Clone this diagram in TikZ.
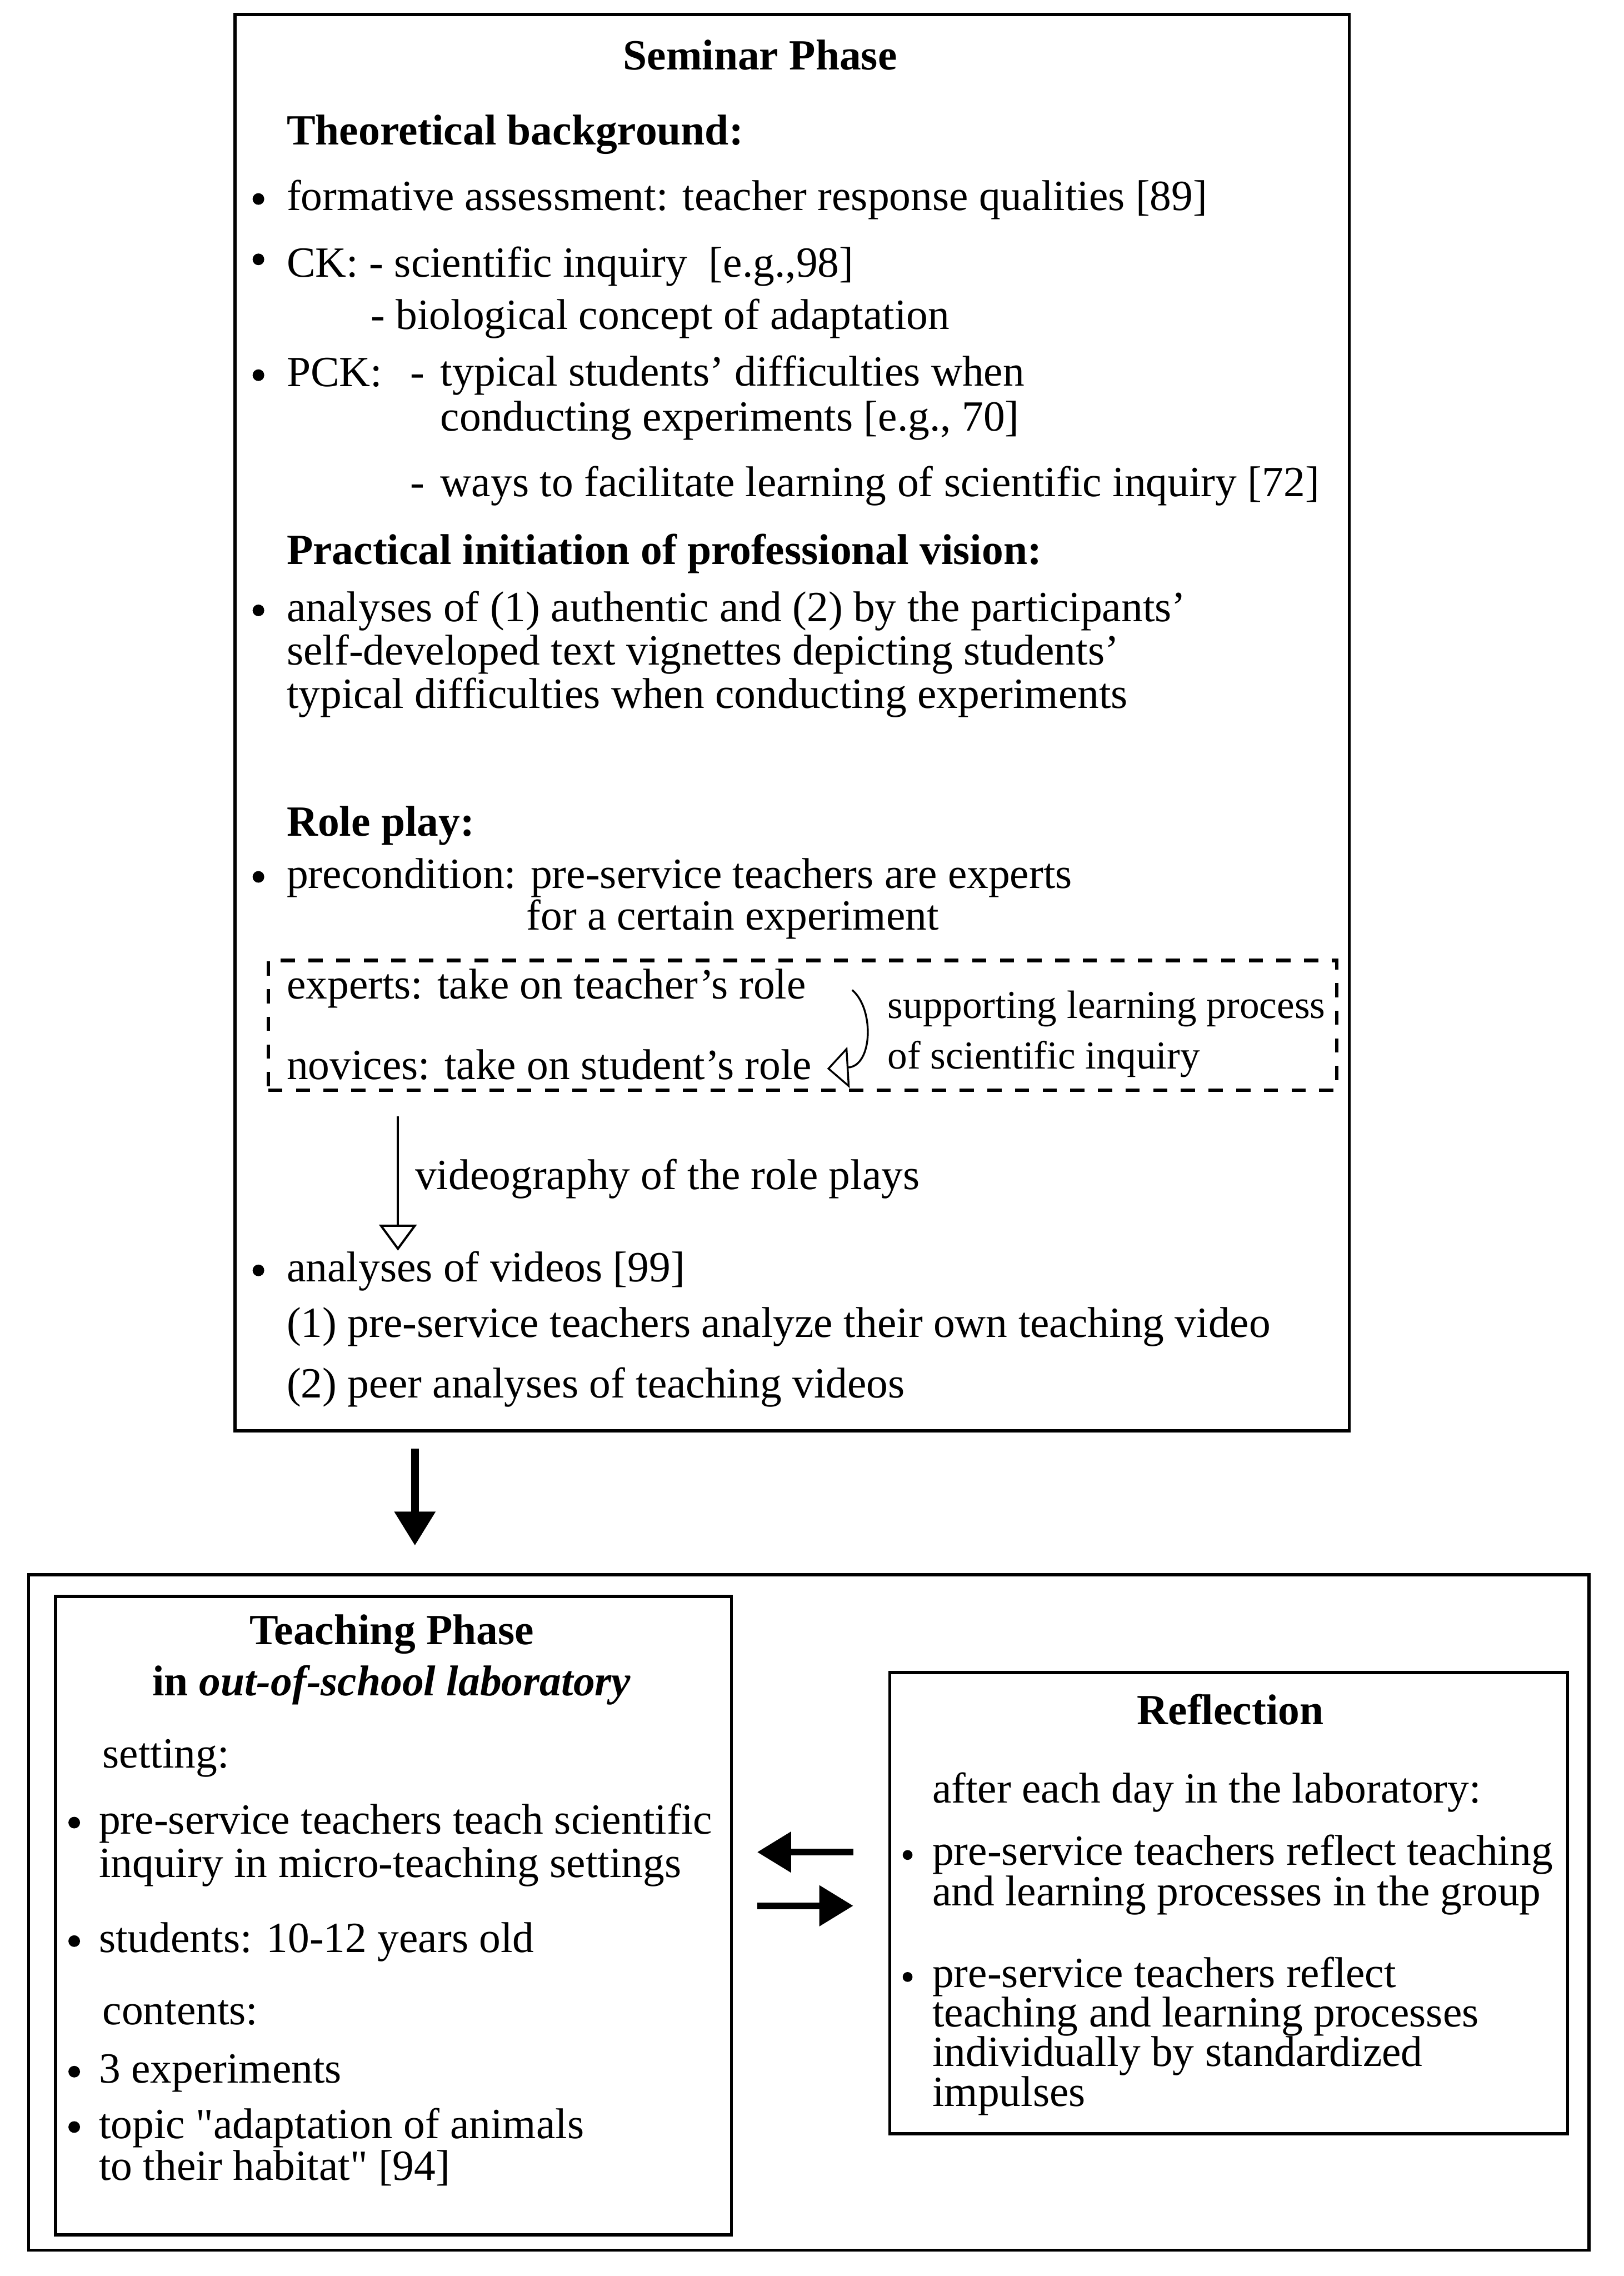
\documentclass[tikz,border=0pt]{standalone}
\usepackage{fontspec}
\setmainfont{Liberation Serif}
\usetikzlibrary{arrows.meta}

\begin{document}
\begin{tikzpicture}[
        box/.style={draw, line width=1pt, inner sep=0pt},
        dashbox/.style={draw, line width=1.1pt, dash pattern=on 4.5pt off 4.3pt, inner sep=0pt},
        txt/.style={anchor=base west, align=left, inner sep=0pt, font=\fontsize{13.7}{14}\selectfont},
        head/.style={txt, font=\fontsize{13.7}{14}\selectfont\bfseries},
        bul/.style={circle, fill, inner sep=0pt, minimum size=0.13cm},
        bigarrow/.style={-{Triangle[length=0.38cm, width=0.44cm]}, line width=2.4pt},
        openarrow/.style={-{Triangle[open, length=0.29cm, width=0.42cm]}, line width=0.7pt},
        looparrow/.style={-{Triangle[open, length=0.24cm, width=0.46cm]}, line width=0.6pt}
    ]
        \useasboundingbox (0,0) rectangle (18.16,-25.45);

        % seminar phase (multi-line nodes sit on their last line)
        \node[box, minimum width=12.46cm, minimum height=15.84cm] (seminar) at (8.86,-8.08) {};
        \node[head, anchor=base] (semtitle) at (8.50,-0.78) {Seminar Phase};
        \node[head] (theo) at (3.20,-1.62) {Theoretical background:};
        \node[txt] (fa) at (3.20,-2.35) {formative assessment: teacher response qualities [89]};
        \node[txt] (ck) at (3.20,-3.10) {CK: - scientific inquiry\ \ [e.g.,98]};
        \node[txt] (bio) at (4.14,-3.68) {- biological concept of adaptation};
        \node[txt] (pck) at (3.20,-4.32) {PCK:};
        \node[txt] (pcka) at (4.58,-4.32) {-};
        \node[txt, font=\fontsize{13.7}{14.3}\selectfont] (diff) at (4.92,-4.82) {typical students' difficulties when\\conducting experiments [e.g., 70]};
        \node[txt] (pckb) at (4.58,-5.55) {-};
        \node[txt] (ways) at (4.92,-5.55) {ways to facilitate learning of scientific inquiry [72]};
        \node[head] (prac) at (3.20,-6.31) {Practical initiation of professional vision:};
        \node[txt, font=\fontsize{13.7}{13.8}\selectfont] (vign) at (3.20,-7.92) {analyses of (1) authentic and (2) by the participants'\\self-developed text vignettes depicting students'\\typical difficulties when conducting experiments};
        \node[head] (role) at (3.20,-9.35) {Role play:};
        \node[txt] (prec) at (3.20,-9.93) {precondition: pre-service teachers are experts};
        \node[txt] (prec2) at (5.88,-10.40) {for a certain experiment};

        % role play box
        \node[dashbox, minimum width=11.95cm, minimum height=1.45cm] (roles) at (8.975,-11.465) {};
        \node[txt] (exp) at (3.20,-11.17) {experts: take on teacher's role};
        \node[txt] (nov) at (3.20,-12.07) {novices: take on student's role};
        \node[txt, font=\fontsize{12.6}{16.1}\selectfont] (supp) at (9.92,-11.95) {supporting learning process\\of scientific inquiry};
        \coordinate (loopa) at (9.53,-11.07);
        \coordinate (loopb) at (9.25,-11.95);
        \draw[looparrow] (loopa) .. controls (9.78,-11.28) and (9.76,-11.92) .. (loopb);

        % videos
        \node[txt] (vid) at (3.20,-14.33) {analyses of videos [99]};
        \node[txt] (own) at (3.20,-14.95) {(1) pre-service teachers analyze their own teaching video};
        \node[txt] (peer) at (3.20,-15.63) {(2) peer analyses of teaching videos};
        \coordinate (vidtop) at (4.45,-12.48);
        \draw[openarrow] (vidtop) -- (vidtop |- vid.north) node[midway, anchor=west, inner sep=0pt, xshift=0.18cm, yshift=0.05cm, font=\fontsize{13.7}{14}\selectfont] (vlabel) {videography of the role plays};

        \node[bul] (bfa) at ([xshift=-0.31cm, yshift=0.125cm]fa.base west) {};
        \node[bul] (bck) at ([xshift=-0.31cm, yshift=0.2cm]ck.base west) {};
        \node[bul] (bpck) at ([xshift=-0.31cm, yshift=0.125cm]pck.base west) {};
        \node[bul] (bvign) at ([xshift=-0.31cm, yshift=1.095cm]vign.base west) {};
        \node[bul] (bprec) at ([xshift=-0.31cm, yshift=0.125cm]prec.base west) {};
        \node[bul] (bvid) at ([xshift=-0.31cm, yshift=0.125cm]vid.base west) {};

        % teaching phase and reflection
        \node[box, minimum width=17.45cm, minimum height=7.55cm] (outer) at (9.045,-21.385) {};
        \draw[bigarrow, shorten <=0.18cm, shorten >=0.31cm] ([xshift=-4.22cm]seminar.south) -- ([xshift=-4.22cm]seminar.south |- outer.north);

        \node[box, minimum width=7.56cm, minimum height=7.14cm] (teach) at (4.40,-21.42) {};
        \node[head, anchor=base, align=center, font=\fontsize{13.7}{16.2}\selectfont\bfseries] (teachtitle) at (4.38,-18.96) {Teaching Phase\\in \textit{out-of-school laboratory}};
        \node[txt] (set) at (1.14,-19.77) {setting:};
        \node[txt, font=\fontsize{13.7}{13.8}\selectfont] (micro) at (1.10,-20.99) {pre-service teachers teach scientific\\inquiry in micro-teaching settings};
        \node[txt] (stud) at (1.10,-21.83) {students: 10-12 years old};
        \node[txt] (cont) at (1.14,-22.64) {contents:};
        \node[txt] (three) at (1.10,-23.29) {3 experiments};
        \node[txt, font=\fontsize{13.7}{13.4}\selectfont] (topic) at (1.10,-24.38) {topic \textquotedbl adaptation of animals\\to their habitat\textquotedbl\ [94]};

        \node[bul] (bmicro) at ([xshift=-0.27cm, yshift=0.61cm]micro.base west) {};
        \node[bul] (bstud) at ([xshift=-0.27cm, yshift=0.125cm]stud.base west) {};
        \node[bul] (bthree) at ([xshift=-0.27cm, yshift=0.125cm]three.base west) {};
        \node[bul] (btopic) at ([xshift=-0.27cm, yshift=0.596cm]topic.base west) {};

        \node[box, minimum width=7.58cm, minimum height=5.16cm] (refl) at (13.74,-21.28) {};
        \node[head, anchor=base] (refltitle) at (13.76,-19.28) {Reflection};
        \node[txt] (after) at (10.42,-20.16) {after each day in the laboratory:};
        \node[txt, font=\fontsize{13.7}{12.9}\selectfont] (group) at (10.42,-21.31) {pre-service teachers reflect teaching\\and learning processes in the group};
        \node[txt, font=\fontsize{13.7}{12.6}\selectfont] (indiv) at (10.42,-23.55) {pre-service teachers reflect\\teaching and learning processes\\individually by standardized\\impulses};

        \node[bul, minimum size=0.11cm] (bgroup) at ([xshift=-0.27cm, yshift=0.568cm]group.base west) {};
        \node[bul, minimum size=0.11cm] (bindiv) at ([xshift=-0.27cm, yshift=1.444cm]indiv.base west) {};

        \draw[bigarrow, line width=2.2pt, shorten <=0.39cm, shorten >=0.27cm] (refl.west |- 0,-20.71) -- (teach.east |- 0,-20.71);
        \draw[bigarrow, line width=2.2pt, shorten <=0.27cm, shorten >=0.39cm] (teach.east |- 0,-21.31) -- (refl.west |- 0,-21.31);
    \end{tikzpicture}
\end{document}
